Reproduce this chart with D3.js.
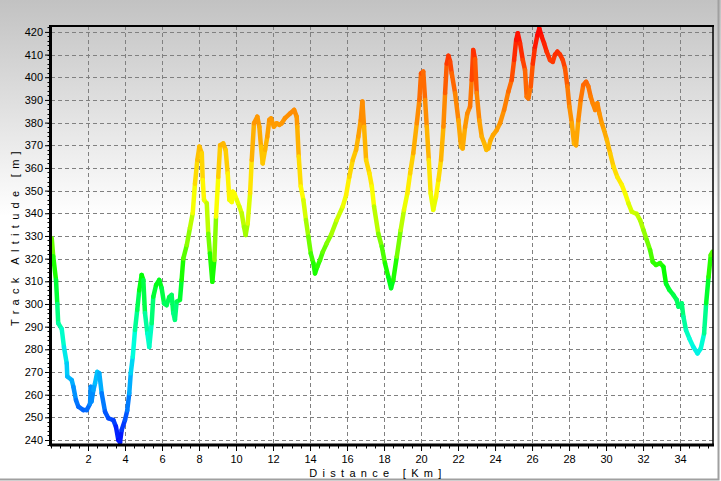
<!DOCTYPE html>
<html><head><meta charset="utf-8">
<script src="https://cdn.jsdelivr.net/npm/d3@7"></script>
<style>html,body{margin:0;padding:0;background:#fff;}svg{display:block;}</style>
</head><body>
<svg id="chart" width="721" height="481"></svg>
<script>
const distanceKm = [0.04,0.12,0.27,0.34,0.39,0.58,0.70,0.85,0.88,1.12,1.21,1.35,1.48,1.75,1.93,2.11,2.15,2.19,2.29,2.38,2.50,2.61,2.74,2.92,3.10,3.37,3.51,3.64,3.73,3.82,4.00,4.12,4.23,4.31,4.42,4.54,4.66,4.77,4.90,4.99,5.08,5.21,5.31,5.44,5.53,5.68,5.85,5.98,6.11,6.25,6.39,6.52,6.61,6.70,6.79,6.97,7.06,7.15,7.34,7.51,7.66,7.78,7.91,8.02,8.15,8.20,8.27,8.42,8.50,8.59,8.72,8.83,8.92,9.04,9.14,9.31,9.44,9.55,9.64,9.77,9.82,9.91,10.04,10.18,10.31,10.43,10.52,10.63,10.76,10.85,10.97,11.15,11.26,11.35,11.44,11.57,11.69,11.80,11.89,12.05,12.20,12.34,12.47,12.65,12.92,13.14,13.28,13.31,13.39,13.50,13.64,13.78,13.91,14.04,14.18,14.27,14.39,14.54,14.69,14.90,15.14,15.44,15.77,15.95,16.12,16.31,16.49,16.61,16.74,16.83,16.92,17.03,17.21,17.34,17.46,17.69,17.88,18.05,18.23,18.38,18.50,18.69,18.90,19.08,19.26,19.41,19.58,19.77,19.91,20.00,20.12,20.22,20.31,20.42,20.52,20.66,20.81,20.94,21.08,21.21,21.30,21.39,21.48,21.57,21.66,21.84,22.02,22.16,22.25,22.38,22.50,22.65,22.74,22.82,22.92,23.01,23.15,23.28,23.41,23.53,23.64,23.76,23.89,24.09,24.27,24.49,24.72,24.90,25.03,25.14,25.23,25.35,25.50,25.62,25.71,25.80,25.93,26.04,26.16,26.29,26.39,26.52,26.65,26.79,26.97,27.12,27.24,27.37,27.51,27.66,27.78,27.91,28.02,28.15,28.27,28.38,28.50,28.63,28.77,28.92,29.04,29.17,29.28,29.41,29.53,29.64,29.77,29.89,30.04,30.22,30.40,30.61,30.85,31.03,31.21,31.39,31.66,31.84,32.02,32.20,32.38,32.52,32.70,32.92,33.10,33.24,33.42,33.64,33.82,33.91,34.09,34.18,34.32,34.50,34.72,34.94,35.12,35.30,35.41,35.54,35.66,35.75];
const altitudeM = [329,321,310.6,300,291.5,289,281,273.8,268,266.5,263.5,257.6,254.7,253.2,253.2,256,263.5,257,262,265,270,269.4,260.6,252.5,249.6,248.8,245.9,240,239,244.4,248.8,253,260.6,269.4,276.7,288.5,297.3,306,312.8,310.6,296,287,281,291.5,303.2,308.4,310.6,307,300.3,299.5,303,304,296,293,301,301.8,310.6,320,326,333.5,340,353,363.5,369.4,366.5,354.7,345.9,344.4,331,322.3,309.8,319.4,338.5,356,370,370.8,367.9,357.6,345.9,345,349.5,348.8,345.9,343,340,334,330.4,335.5,348.8,363.5,379.7,382.6,378.2,369.4,362,368,373.8,381.2,381.9,378.2,379.7,379,379.7,382,384,385.6,382.6,378.2,365,351.8,345.9,337,329.7,322.3,318,313.5,316.4,319.4,323,326.7,330.5,337,343,348,356,363.5,368,373.8,381,389.3,378.2,363.5,357.6,351.8,343,331,325.3,318,312,307,310.6,320.9,332.6,341.5,348.8,357.6,366.5,379.7,390,401.7,402.5,390,378.2,363.5,348.8,341.5,347.3,354.7,363.5,378.2,393,406,409.5,407,401.7,393,381,369.4,368.6,378,384,387,398.8,412,408,393,381,373.8,371,368,368.6,372.3,374.5,376.7,379.7,385.6,393.7,398.8,407.6,416.4,419.4,415,407.6,403.2,391.4,390.7,396,406,413.4,418.6,421.5,418,415,411.3,407.6,406.8,410,411.3,410,407.6,404,396,387,379.7,370.8,370,381,390,396.6,398,396,391.4,388.5,385.6,388.5,384,379.7,376.7,372.5,366.5,360.6,356,352.5,348.8,344.4,340.7,339.7,337,332.6,328.2,323.8,318.6,317.2,318,316.4,309,306.2,304,301.8,298.8,300.3,294.4,288.5,284.8,281,278.2,280.4,287,300.3,312,321.6,323];
const xTickValues = [2,4,6,8,10,12,14,16,18,20,22,24,26,28,30,32,34];
const yTickValues = [240,250,260,270,280,290,300,310,320,330,340,350,360,370,380,390,400,410,420];
const colorStopsAlt = [238,255,268,282,298,312,330,348,372,395,410,422];
const colorStopsHex = ["#0000ff","#0070ff","#00c0ff","#00ffe0","#00ff70","#00ff00","#90ff00","#ffff00","#ffb000","#ff7000","#ff3000","#ff0000"];
const xLabel = "Distance [Km]";
const yLabel = "Track Altitude [m]";

const svg = d3.select("#chart");
const W = 721, H = 481;
const L = 51, R = 713, T = 26, B = 445;
const font = "'Liberation Sans', Arial, sans-serif";

const defs = svg.append("defs");
const bg = defs.append("linearGradient").attr("id","bg").attr("x1",0).attr("y1",0).attr("x2",0).attr("y2",1);
bg.append("stop").attr("offset","0").attr("stop-color","#c2c2c2");
bg.append("stop").attr("offset","0.45").attr("stop-color","#ffffff");
bg.append("stop").attr("offset","1").attr("stop-color","#ffffff");
defs.append("clipPath").attr("id","clip").append("rect").attr("x",L).attr("y",T).attr("width",R-L).attr("height",B-T);

svg.append("rect").attr("width",W).attr("height",H).attr("fill","url(#bg)");
// outer sunken border (right & bottom)
svg.append("path").attr("d",`M${W-2.5},0 V${H-1.5} H0`).attr("fill","none").attr("stroke","#a0a0a0").attr("stroke-width",2);

const x = d3.scaleLinear().domain([0,35.78]).range([L,R]);
const y = d3.scaleLinear().domain([237.8,422.6]).range([B,T]);
const color = d3.scaleLinear().domain(colorStopsAlt).range(colorStopsHex).clamp(true);

// grid
const grid = svg.append("g").attr("stroke","#808080").attr("stroke-width",1).attr("stroke-dasharray","4,3");
grid.selectAll("line.h").data(yTickValues).join("line").attr("class","h")
  .attr("x1",L).attr("x2",R).attr("y1",d=>Math.round(y(d))+0.5).attr("y2",d=>Math.round(y(d))+0.5);
grid.selectAll("line.v").data(xTickValues).join("line").attr("class","v")
  .attr("y1",T).attr("y2",B).attr("x1",d=>Math.round(x(d))+0.5).attr("x2",d=>Math.round(x(d))+0.5);

// line segments colored by altitude
const pts = distanceKm.map((d,i)=>[d, altitudeM[i]]);
const segs = d3.pairs(pts);
svg.append("g").attr("clip-path","url(#clip)").selectAll("line").data(segs).join("line")
  .attr("x1",d=>x(d[0][0])).attr("y1",d=>y(d[0][1])).attr("x2",d=>x(d[1][0])).attr("y2",d=>y(d[1][1]))
  .attr("stroke",d=>color((d[0][1]+d[1][1])/2)).attr("stroke-width",4.5).attr("stroke-linecap","round");

// frame top/right
svg.append("line").attr("x1",L).attr("x2",R+1).attr("y1",T).attr("y2",T).attr("stroke","#000").attr("stroke-width",2);
svg.append("line").attr("x1",R).attr("x2",R).attr("y1",T).attr("y2",B).attr("stroke","#000").attr("stroke-width",1.5);

// axes
const xMinor = d3.range(0, 35.76, 0.5);
const yMinor = d3.range(238, 423, 2);
const xAxis = d3.axisBottom(x).tickValues(xTickValues).tickSize(6).tickSizeOuter(0).tickPadding(4);
const gx = svg.append("g").attr("transform",`translate(0,${B})`).call(xAxis);
gx.select(".domain").remove();
gx.selectAll("text").attr("font-family",font).attr("font-size",11).attr("fill","#000");
gx.selectAll(".tick line").attr("stroke","#000");
svg.append("g").selectAll("line").data(xMinor).join("line")
  .attr("x1",d=>Math.round(x(d))+0.5).attr("x2",d=>Math.round(x(d))+0.5).attr("y1",B).attr("y2",B+3.5).attr("stroke","#000");

const yAxis = d3.axisLeft(y).tickValues(yTickValues).tickSize(6).tickSizeOuter(0).tickPadding(2);
const gy = svg.append("g").attr("transform",`translate(${L},0)`).call(yAxis);
gy.select(".domain").remove();
gy.selectAll("text").attr("font-family",font).attr("font-size",11).attr("fill","#000");
gy.selectAll(".tick line").attr("stroke","#000");
svg.append("g").selectAll("line").data(yMinor).join("line")
  .attr("y1",d=>Math.round(y(d))+0.5).attr("y2",d=>Math.round(y(d))+0.5).attr("x1",L-3.5).attr("x2",L).attr("stroke","#000");

svg.append("line").attr("x1",L-1).attr("x2",R+1).attr("y1",B).attr("y2",B).attr("stroke","#000").attr("stroke-width",3);
svg.append("line").attr("x1",L-0.5).attr("x2",L-0.5).attr("y1",T-1).attr("y2",B+1).attr("stroke","#000").attr("stroke-width",3);

// axis titles
svg.append("text").attr("x",378).attr("y",477).attr("text-anchor","middle")
  .attr("font-family",font).attr("font-size",11).attr("letter-spacing","5.3px").attr("fill","#000").text(xLabel);
svg.append("text").attr("transform","translate(19,236) rotate(-90)").attr("text-anchor","middle")
  .attr("font-family",font).attr("font-size",11).attr("letter-spacing","5.3px").attr("fill","#000").text(yLabel);
</script>
</body></html>
